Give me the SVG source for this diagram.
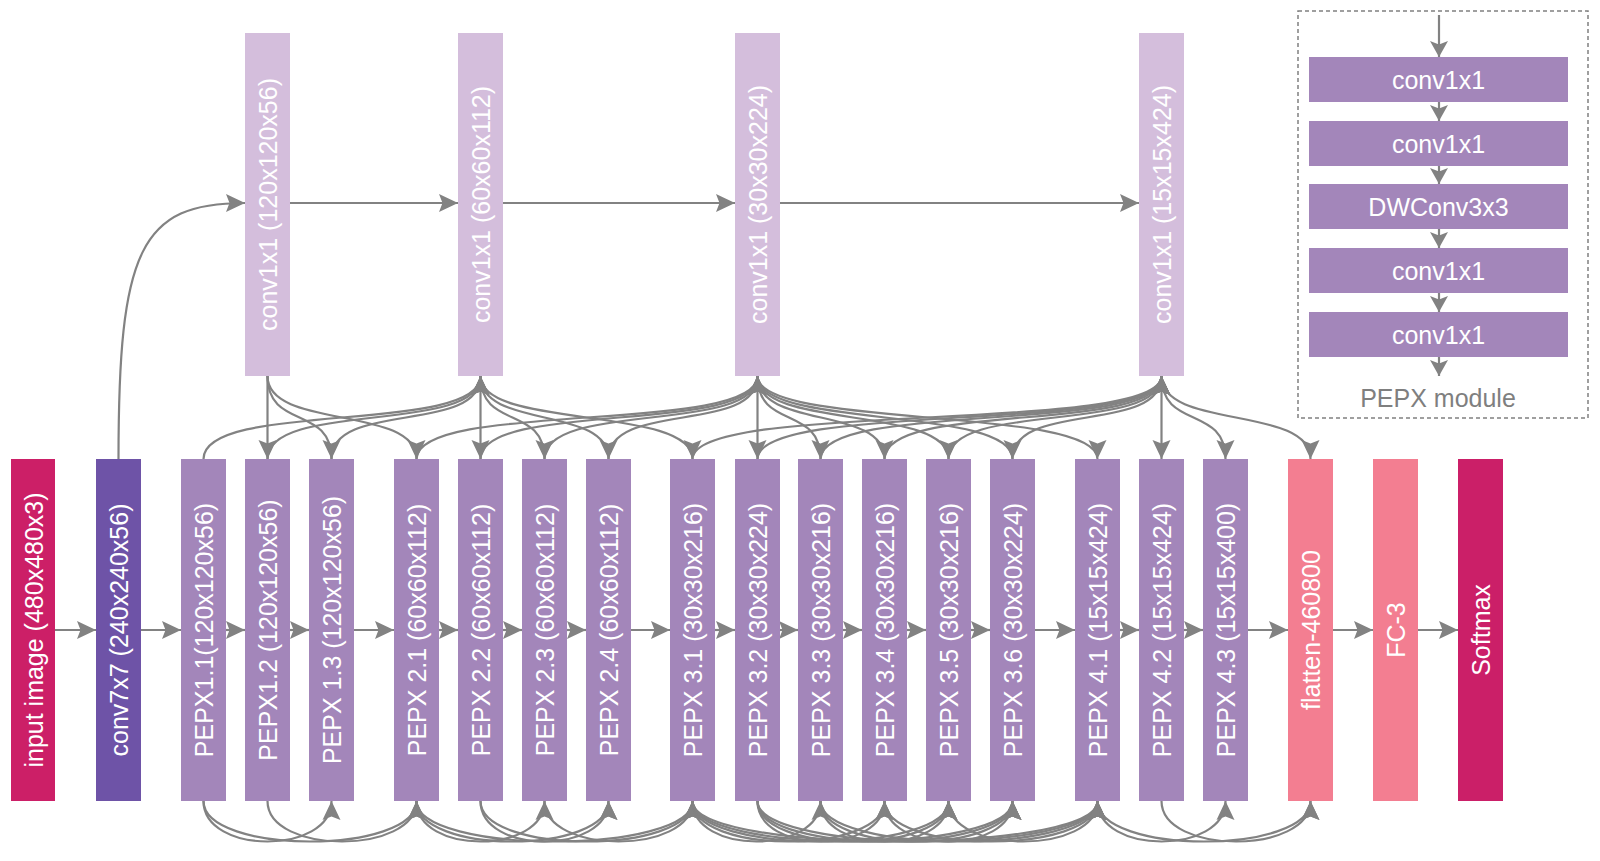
<svg xmlns="http://www.w3.org/2000/svg" width="1600" height="861" viewBox="0 0 1600 861">
<style>
.lbl{font-family:"Liberation Sans",Arial,sans-serif;font-size:25px;fill:#ffffff;text-anchor:middle;dominant-baseline:central}
.mlbl{font-family:"Liberation Sans",Arial,sans-serif;font-size:25px;fill:#ffffff;text-anchor:middle;dominant-baseline:central}
.cap{font-family:"Liberation Sans",Arial,sans-serif;font-size:25px;fill:#7f7f7f;text-anchor:middle;dominant-baseline:central}
.e{fill:none;stroke:#828282;stroke-width:2.2;marker-end:url(#a)}
.em{fill:none;stroke:#828282;stroke-width:2.2;marker-end:url(#b)}
.pepx{fill:#a386ba}
.top{fill:#d4bedc}
</style>
<defs>
<marker id="a" markerUnits="userSpaceOnUse" viewBox="0 0 20 20" markerWidth="20" markerHeight="20" refX="19" refY="10" orient="auto"><path d="M0,1 L19,10 L0,19 L3.5,10 z" fill="#828282"/></marker>
<marker id="b" markerUnits="userSpaceOnUse" viewBox="0 0 18 20" markerWidth="18" markerHeight="20" refX="16" refY="10" orient="auto"><path d="M0,1 L16,10 L0,19 L3.5,10 z" fill="#828282"/></marker>
</defs>
<rect width="1600" height="861" fill="#ffffff"/>

<g id="connectors">
<!-- main chain -->
<path class="e" d="M55 630 H96"/>
<path class="e" d="M141 630 H181"/>
<path class="e" d="M226 630 H245"/>
<path class="e" d="M290 630 H309"/>
<path class="e" d="M354 630 H394"/>
<path class="e" d="M439 630 H458"/>
<path class="e" d="M503 630 H522"/>
<path class="e" d="M567 630 H586"/>
<path class="e" d="M631 630 H670"/>
<path class="e" d="M715 630 H735"/>
<path class="e" d="M780 630 H798"/>
<path class="e" d="M843 630 H862"/>
<path class="e" d="M907 630 H926"/>
<path class="e" d="M971 630 H990"/>
<path class="e" d="M1035 630 H1075"/>
<path class="e" d="M1120 630 H1139"/>
<path class="e" d="M1184 630 H1203"/>
<path class="e" d="M1248 630 H1288"/>
<path class="e" d="M1333 630 H1373"/>
<path class="e" d="M1418 630 H1458"/>
<!-- top chain -->
<path class="e" d="M118.5 459 C118.5 250 140 203 245 203"/>
<path class="e" d="M290 203 H458"/>
<path class="e" d="M503 203 H735"/>
<path class="e" d="M780 203 H1139"/>
<!-- top box to PEPX -->
<path class="e" d="M267.5 376 V459"/>
<path class="e" d="M267.5 376 C267.5 430 331.5 405 331.5 459"/>
<path class="e" d="M267.5 376 C267.5 430 416.5 405 416.5 459"/>
<path class="e" d="M480.5 376 V459"/>
<path class="e" d="M480.5 376 C480.5 430 544.5 405 544.5 459"/>
<path class="e" d="M480.5 376 C480.5 430 608.5 405 608.5 459"/>
<path class="e" d="M480.5 376 C480.5 430 692.5 405 692.5 459"/>
<path class="e" d="M757.5 376 V459"/>
<path class="e" d="M757.5 376 C757.5 430 820.5 405 820.5 459"/>
<path class="e" d="M757.5 376 C757.5 430 884.5 405 884.5 459"/>
<path class="e" d="M757.5 376 C757.5 430 948.5 405 948.5 459"/>
<path class="e" d="M757.5 376 C757.5 430 1012.5 405 1012.5 459"/>
<path class="e" d="M757.5 376 C757.5 430 1097.5 405 1097.5 459"/>
<path class="e" d="M1161.5 376 V459"/>
<path class="e" d="M1161.5 376 C1161.5 430 1225.5 405 1225.5 459"/>
<path class="e" d="M1161.5 376 C1161.5 430 1310.5 405 1310.5 459"/>
<!-- PEPX to next top box -->
<path class="e" d="M203.5 459 C203.5 400 480.5 435 480.5 376"/>
<path class="e" d="M267.5 459 C267.5 400 480.5 435 480.5 376"/>
<path class="e" d="M331.5 459 C331.5 400 480.5 435 480.5 376"/>
<path class="e" d="M416.5 459 C416.5 400 757.5 435 757.5 376"/>
<path class="e" d="M480.5 459 C480.5 400 757.5 435 757.5 376"/>
<path class="e" d="M544.5 459 C544.5 400 757.5 435 757.5 376"/>
<path class="e" d="M608.5 459 C608.5 400 757.5 435 757.5 376"/>
<path class="e" d="M692.5 459 C692.5 400 1161.5 435 1161.5 376"/>
<path class="e" d="M757.5 459 C757.5 400 1161.5 435 1161.5 376"/>
<path class="e" d="M820.5 459 C820.5 400 1161.5 435 1161.5 376"/>
<path class="e" d="M884.5 459 C884.5 400 1161.5 435 1161.5 376"/>
<path class="e" d="M948.5 459 C948.5 400 1161.5 435 1161.5 376"/>
<path class="e" d="M1012.5 459 C1012.5 400 1161.5 435 1161.5 376"/>
<!-- bottom skip connections -->
<path class="e" d="M203.5 801 C203.5 855 331.5 855 331.5 801"/>
<path class="e" d="M203.5 801 C203.5 855 416.5 855 416.5 801"/>
<path class="e" d="M267.5 801 C267.5 855 416.5 855 416.5 801"/>
<path class="e" d="M416.5 801 C416.5 855 544.5 855 544.5 801"/>
<path class="e" d="M416.5 801 C416.5 855 608.5 855 608.5 801"/>
<path class="e" d="M416.5 801 C416.5 855 692.5 855 692.5 801"/>
<path class="e" d="M480.5 801 C480.5 855 608.5 855 608.5 801"/>
<path class="e" d="M480.5 801 C480.5 855 692.5 855 692.5 801"/>
<path class="e" d="M544.5 801 C544.5 855 692.5 855 692.5 801"/>
<path class="e" d="M692.5 801 C692.5 855 820.5 855 820.5 801"/>
<path class="e" d="M692.5 801 C692.5 855 884.5 855 884.5 801"/>
<path class="e" d="M692.5 801 C692.5 855 948.5 855 948.5 801"/>
<path class="e" d="M692.5 801 C692.5 855 1012.5 855 1012.5 801"/>
<path class="e" d="M692.5 801 C692.5 855 1097.5 855 1097.5 801"/>
<path class="e" d="M757.5 801 C757.5 855 884.5 855 884.5 801"/>
<path class="e" d="M757.5 801 C757.5 855 948.5 855 948.5 801"/>
<path class="e" d="M757.5 801 C757.5 855 1012.5 855 1012.5 801"/>
<path class="e" d="M757.5 801 C757.5 855 1097.5 855 1097.5 801"/>
<path class="e" d="M820.5 801 C820.5 855 948.5 855 948.5 801"/>
<path class="e" d="M820.5 801 C820.5 855 1012.5 855 1012.5 801"/>
<path class="e" d="M820.5 801 C820.5 855 1097.5 855 1097.5 801"/>
<path class="e" d="M884.5 801 C884.5 855 1012.5 855 1012.5 801"/>
<path class="e" d="M884.5 801 C884.5 855 1097.5 855 1097.5 801"/>
<path class="e" d="M948.5 801 C948.5 855 1097.5 855 1097.5 801"/>
<path class="e" d="M1097.5 801 C1097.5 855 1225.5 855 1225.5 801"/>
<path class="e" d="M1097.5 801 C1097.5 855 1310.5 855 1310.5 801"/>
<path class="e" d="M1161.5 801 C1161.5 855 1310.5 855 1310.5 801"/>
<!-- PEPX module internal arrows -->
<path class="em" d="M1439 15 V57"/>
<path class="em" d="M1439 102 V121"/>
<path class="em" d="M1439 166 V184"/>
<path class="em" d="M1439 229 V248"/>
<path class="em" d="M1439 293 V312"/>
<path class="em" d="M1439 357 V376"/>
</g>

<g id="input"><rect x="11" y="459" width="44" height="342" fill="#cc1f67"/><text class="lbl" transform="translate(33.5 630) rotate(-90)">input image (480x480x3)</text></g>
<g id="conv7x7"><rect x="96" y="459" width="45" height="342" fill="#6e53a7"/><text class="lbl" transform="translate(118.5 630) rotate(-90)">conv7x7 (240x240x56)</text></g>
<g id="pepx11"><rect class="pepx" x="181" y="459" width="45" height="342"/><text class="lbl" transform="translate(203.5 630) rotate(-90)">PEPX1.1(120x120x56)</text></g>
<g id="pepx12"><rect class="pepx" x="245" y="459" width="45" height="342"/><text class="lbl" transform="translate(267.5 630) rotate(-90)">PEPX1.2 (120x120x56)</text></g>
<g id="pepx13"><rect class="pepx" x="309" y="459" width="45" height="342"/><text class="lbl" transform="translate(331.5 630) rotate(-90)">PEPX 1.3 (120x120x56)</text></g>
<g id="pepx21"><rect class="pepx" x="394" y="459" width="45" height="342"/><text class="lbl" transform="translate(416.5 630) rotate(-90)">PEPX 2.1 (60x60x112)</text></g>
<g id="pepx22"><rect class="pepx" x="458" y="459" width="45" height="342"/><text class="lbl" transform="translate(480.5 630) rotate(-90)">PEPX 2.2 (60x60x112)</text></g>
<g id="pepx23"><rect class="pepx" x="522" y="459" width="45" height="342"/><text class="lbl" transform="translate(544.5 630) rotate(-90)">PEPX 2.3 (60x60x112)</text></g>
<g id="pepx24"><rect class="pepx" x="586" y="459" width="45" height="342"/><text class="lbl" transform="translate(608.5 630) rotate(-90)">PEPX 2.4 (60x60x112)</text></g>
<g id="pepx31"><rect class="pepx" x="670" y="459" width="45" height="342"/><text class="lbl" transform="translate(692.5 630) rotate(-90)">PEPX 3.1 (30x30x216)</text></g>
<g id="pepx32"><rect class="pepx" x="735" y="459" width="45" height="342"/><text class="lbl" transform="translate(757.5 630) rotate(-90)">PEPX 3.2 (30x30x224)</text></g>
<g id="pepx33"><rect class="pepx" x="798" y="459" width="45" height="342"/><text class="lbl" transform="translate(820.5 630) rotate(-90)">PEPX 3.3 (30x30x216)</text></g>
<g id="pepx34"><rect class="pepx" x="862" y="459" width="45" height="342"/><text class="lbl" transform="translate(884.5 630) rotate(-90)">PEPX 3.4 (30x30x216)</text></g>
<g id="pepx35"><rect class="pepx" x="926" y="459" width="45" height="342"/><text class="lbl" transform="translate(948.5 630) rotate(-90)">PEPX 3.5 (30x30x216)</text></g>
<g id="pepx36"><rect class="pepx" x="990" y="459" width="45" height="342"/><text class="lbl" transform="translate(1012.5 630) rotate(-90)">PEPX 3.6 (30x30x224)</text></g>
<g id="pepx41"><rect class="pepx" x="1075" y="459" width="45" height="342"/><text class="lbl" transform="translate(1097.5 630) rotate(-90)">PEPX 4.1 (15x15x424)</text></g>
<g id="pepx42"><rect class="pepx" x="1139" y="459" width="45" height="342"/><text class="lbl" transform="translate(1161.5 630) rotate(-90)">PEPX 4.2 (15x15x424)</text></g>
<g id="pepx43"><rect class="pepx" x="1203" y="459" width="45" height="342"/><text class="lbl" transform="translate(1225.5 630) rotate(-90)">PEPX 4.3 (15x15x400)</text></g>
<g id="flatten"><rect x="1288" y="459" width="45" height="342" fill="#f37e91"/><text class="lbl" transform="translate(1310.5 630) rotate(-90)">flatten-460800</text></g>
<g id="fc3"><rect x="1373" y="459" width="45" height="342" fill="#f37e91"/><text class="lbl" transform="translate(1395.5 630) rotate(-90)">FC-3</text></g>
<g id="softmax"><rect x="1458" y="459" width="45" height="342" fill="#cb1f68"/><text class="lbl" transform="translate(1480.5 630) rotate(-90)">Softmax</text></g>

<g id="top1"><rect class="top" x="245" y="33" width="45" height="343"/><text class="lbl" transform="translate(267.5 204.5) rotate(-90)">conv1x1 (120x120x56)</text></g>
<g id="top2"><rect class="top" x="458" y="33" width="45" height="343"/><text class="lbl" transform="translate(480.5 204.5) rotate(-90)">conv1x1 (60x60x112)</text></g>
<g id="top3"><rect class="top" x="735" y="33" width="45" height="343"/><text class="lbl" transform="translate(757.5 204.5) rotate(-90)">conv1x1 (30x30x224)</text></g>
<g id="top4"><rect class="top" x="1139" y="33" width="45" height="343"/><text class="lbl" transform="translate(1161.5 204.5) rotate(-90)">conv1x1 (15x15x424)</text></g>

<g id="pepx-module">
<rect x="1298" y="11" width="290" height="407" fill="none" stroke="#808080" stroke-width="1.5" stroke-dasharray="4 3"/>
<rect class="pepx" x="1309" y="57" width="259" height="45"/><text class="mlbl" x="1438.5" y="79.5">conv1x1</text>
<rect class="pepx" x="1309" y="121" width="259" height="45"/><text class="mlbl" x="1438.5" y="143.5">conv1x1</text>
<rect class="pepx" x="1309" y="184" width="259" height="45"/><text class="mlbl" x="1438.5" y="206.5">DWConv3x3</text>
<rect class="pepx" x="1309" y="248" width="259" height="45"/><text class="mlbl" x="1438.5" y="270.5">conv1x1</text>
<rect class="pepx" x="1309" y="312" width="259" height="45"/><text class="mlbl" x="1438.5" y="334.5">conv1x1</text>
<text class="cap" x="1438" y="398">PEPX module</text>
</g>
</svg>
